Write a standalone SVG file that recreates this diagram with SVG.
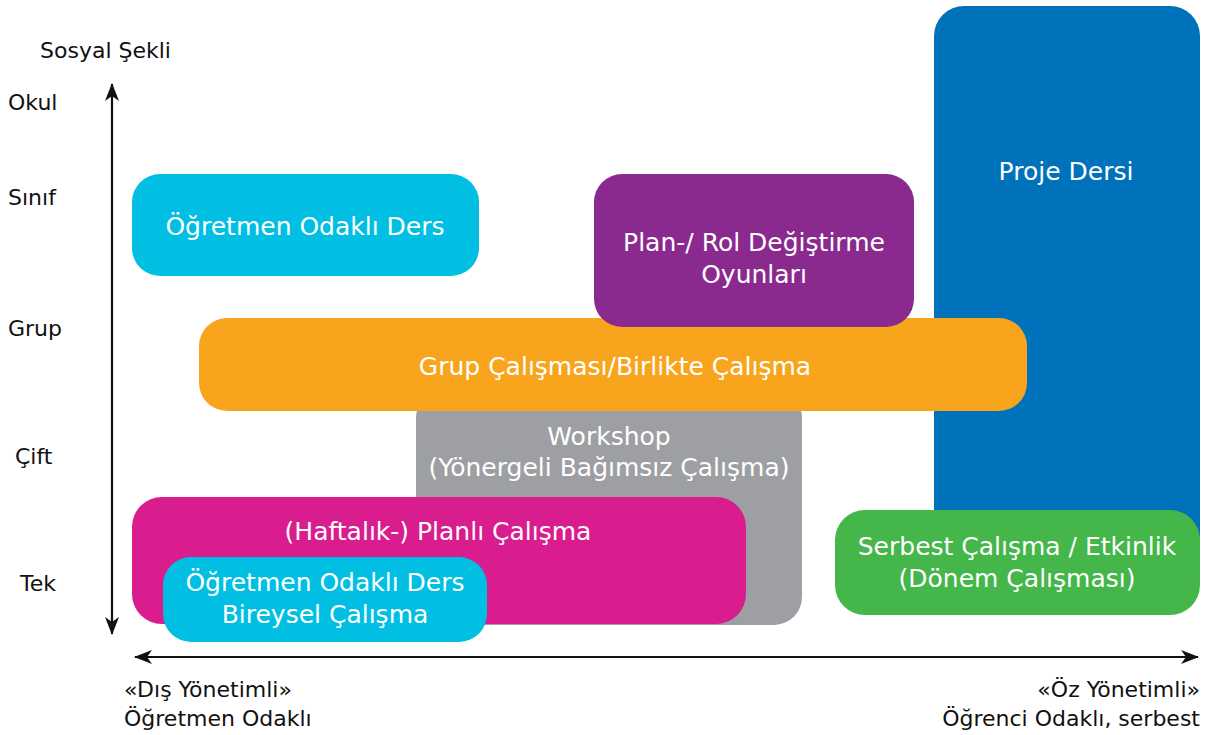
<svg xmlns="http://www.w3.org/2000/svg" width="1208" height="735" viewBox="0 0 1208 735">
<style>
.box text{font-family:"DejaVu Sans","Liberation Sans",sans-serif;font-size:25px;fill:#fff;text-anchor:middle}
.lbl{font-family:"DejaVu Sans","Liberation Sans",sans-serif;font-size:22px;fill:#111}
.axis{stroke:#111;stroke-width:2.2;fill:none}
</style>
<defs>
<marker id="ah" viewBox="0 0 18 14" refX="17" refY="7" markerWidth="18" markerHeight="14" markerUnits="userSpaceOnUse" orient="auto-start-reverse">
<path d="M0,0 L18,7 L0,14 L5,7 Z" fill="#111"/>
</marker>
</defs>
<rect width="1208" height="735" fill="#fff"/>
<g id="workshop" class="box"><rect x="416" y="390" width="386" height="235" rx="28" fill="#9d9fa2"/><text x="609" y="445">Workshop</text><text x="609" y="476">(Yönergeli Bağımsız Çalışma)</text></g>
<g id="proje" class="box"><rect x="934" y="6" width="266" height="560" rx="30" fill="#0072bc"/><text x="1066" y="180">Proje Dersi</text></g>
<g id="grup" class="box"><rect x="199" y="318" width="828" height="93" rx="28" fill="#f8a51d"/><text x="615" y="375">Grup Çalışması/Birlikte Çalışma</text></g>
<g id="plan" class="box"><rect x="594" y="174" width="320" height="153" rx="28" fill="#8a2a8f"/><text x="754" y="251">Plan-/ Rol Değiştirme</text><text x="754" y="283">Oyunları</text></g>
<g id="ogretmen" class="box"><rect x="132" y="174" width="347" height="102" rx="28" fill="#00bfe3"/><text x="305" y="235">Öğretmen Odaklı Ders</text></g>
<g id="haftalik" class="box"><rect x="132" y="497" width="614" height="127" rx="30" fill="#d91c8e"/><text x="438" y="540">(Haftalık-) Planlı Çalışma</text></g>
<g id="bireysel" class="box"><rect x="163" y="557" width="324" height="85" rx="28" fill="#00bfe3"/><text x="325" y="591">Öğretmen Odaklı Ders</text><text x="325" y="623">Bireysel Çalışma</text></g>
<g id="serbest" class="box"><rect x="835" y="510" width="365" height="105" rx="30" fill="#45b649"/><text x="1017" y="555">Serbest Çalışma / Etkinlik</text><text x="1017" y="587">(Dönem Çalışması)</text></g>
<g id="connectors">
<line class="axis" x1="112" y1="84" x2="112" y2="634" marker-start="url(#ah)" marker-end="url(#ah)"/>
<line class="axis" x1="135" y1="657" x2="1198" y2="657" marker-start="url(#ah)" marker-end="url(#ah)"/>
</g>
<g id="labels">
<text class="lbl" x="40" y="58">Sosyal Şekli</text>
<text class="lbl" x="8" y="110">Okul</text>
<text class="lbl" x="8" y="205">Sınıf</text>
<text class="lbl" x="8" y="336">Grup</text>
<text class="lbl" x="15" y="464">Çift</text>
<text class="lbl" x="20" y="591">Tek</text>
<text class="lbl" x="124" y="697">«Dış Yönetimli»</text>
<text class="lbl" x="124" y="726">Öğretmen Odaklı</text>
<text class="lbl" x="1200" y="697" text-anchor="end">«Öz Yönetimli»</text>
<text class="lbl" x="1200" y="726" text-anchor="end">Öğrenci Odaklı, serbest</text>
</g>
</svg>
